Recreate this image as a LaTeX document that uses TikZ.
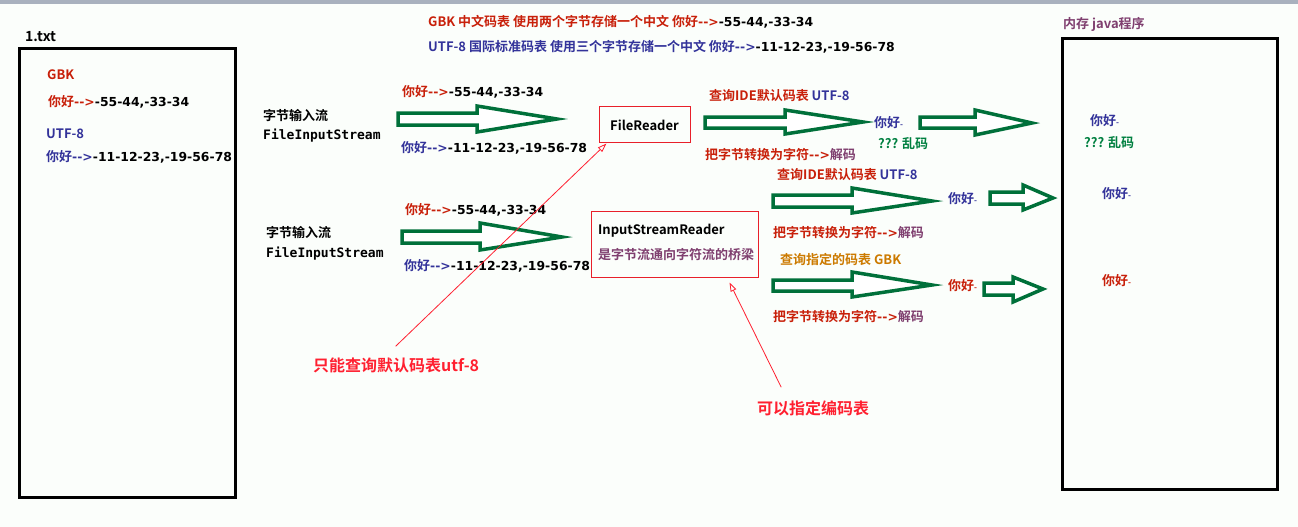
\documentclass[tikz,border=0pt]{standalone}
\usepackage{fontspec}
\setmainfont{Noto Sans CJK SC}[BoldFont={Noto Sans CJK SC Bold},Ligatures=TeXOff]
\setmonofont{DejaVu Sans Mono}[Ligatures=TeXOff]
\newfontfamily\dvfont{DejaVu Sans Bold}[Ligatures=TeXOff]
\usetikzlibrary{arrows.meta}
\definecolor{dred}{HTML}{C8200A}
\definecolor{dblue}{HTML}{33339A}
\definecolor{dpurple}{HTML}{7F3F6F}
\definecolor{tgreen}{HTML}{008040}
\definecolor{agreen}{HTML}{00703A}
\definecolor{dorange}{HTML}{CC7A00}
\definecolor{annred}{HTML}{FF2030}
\definecolor{boxred}{HTML}{E8202A}
\definecolor{topbar}{HTML}{A9B1BE}
\definecolor{bg}{HTML}{FBFEFB}
\newcommand\hollowarr[8]{%
  \draw[bigarr] (#1,#5) -- (#2,#5) -- (#2,#7) -- (#3,#4) -- (#2,#8) -- (#2,#6) -- (#1,#6) -- cycle;}
\newcommand\nihao{你好{\fontsize{8}{8}\selectfont -}}
\newcommand\numtxt[1]{{\dvfont\mdseries\fontsize{12.4}{15}\selectfont #1}}
\begin{document}
\begin{tikzpicture}[x=1pt,y=-1pt,
  txt/.style={inner sep=0pt, anchor=west, font=\bfseries\fontsize{13}{15}\selectfont},
  mono/.style={inner sep=0pt, anchor=west, font=\ttfamily\bfseries\fontsize{13}{15}\selectfont},
  ann/.style={inner sep=0pt, anchor=west, text=annred, font=\bfseries\fontsize{16}{18}\selectfont},
  bigarr/.style={draw=agreen, line width=3.5pt, fill=white, line join=miter},
  memory/.style={draw=black, line width=3pt, inner sep=0pt},
  procbox/.style={draw=boxred, line width=1pt, inner sep=0pt},
  redarr/.style={draw=annred, line width=0.8pt, -{Triangle[open,length=9pt,width=6pt]}}]
\useasboundingbox (0,0) rectangle (1298,527);
\fill[bg] (0,0) rectangle (1298,527);
\fill[topbar] (0,0) rectangle (1298,4);

% left file box
\node[txt, font=\bfseries\fontsize{14}{16}\selectfont] (ttxt) at (25,37) {1.txt};
\node[memory, minimum width=216pt, minimum height=448pt] (file) at (127,273) {};
\node[txt, text=dred] (lgbk) at (47,75) {GBK};
\node[txt] (lgbkv) at (48,102) {\textcolor{dred}{你好\numtxt{-->}}\numtxt{-55-44,-33-34}};
\node[txt, text=dblue] (lutf) at (46,134) {UTF-8};
\node[txt] (lutfv) at (46,157) {\textcolor{dblue}{你好\numtxt{-->}}\numtxt{-11-12-23,-19-56-78}};

% top explanation
\node[txt] (topgbk) at (428,22) {\textcolor{dred}{GBK 中文码表 使用两个字节存储一个中文 你好\numtxt{-->}}\numtxt{-55-44,-33-34}};
\node[txt] (toputf) at (428,47) {\textcolor{dblue}{UTF-8 国际标准码表 使用三个字节存储一个中文 你好\numtxt{-->}}\numtxt{-11-12-23,-19-56-78}};

% row 1
\node[txt] (bis1) at (263,116) {字节输入流};
\node[mono] (fis1) at (263,136) {FileInputStream};
\node[txt] (g1) at (402,92) {\textcolor{dred}{你好\numtxt{-->}}\numtxt{-55-44,-33-34}};
\node[txt] (u1) at (401,148) {\textcolor{dblue}{你好\numtxt{-->}}\numtxt{-11-12-23,-19-56-78}};
\hollowarr{398}{477}{557}{119}{113}{125}{106}{132}
\node[procbox, minimum width=91pt, minimum height=36pt] (fr) at (644.5,124) {};
\node[txt, anchor=center] (frt) at (644.5,125) {FileReader};
\node[txt] (q1) at (709,96) {\textcolor{dred}{查询IDE默认码表} \textcolor{dblue}{UTF-8}};
\hollowarr{705}{785}{863}{122}{117}{128}{110}{134}
\node[txt] (d1) at (705,155) {\textcolor{dred}{把字节转换为字符\numtxt{-->}}\textcolor{dpurple}{解码}};
\node[txt, text=dblue] (n1) at (874,123) {\nihao};
\node[txt, text=tgreen] (m1) at (878,144) {??? 乱码};
\hollowarr{920}{975}{1032}{123}{117}{128}{110}{135}

% row 2
\node[txt] (bis2) at (266,232) {字节输入流};
\node[mono] (fis2) at (266,254) {FileInputStream};
\node[txt] (g2) at (405,210) {\textcolor{dred}{你好\numtxt{-->}}\numtxt{-55-44,-33-34}};
\node[txt] (u2) at (404,266) {\textcolor{dblue}{你好\numtxt{-->}}\numtxt{-11-12-23,-19-56-78}};
\hollowarr{402}{480}{562}{237}{231}{243}{223}{250}
\node[procbox, minimum width=167pt, minimum height=66pt] (isr) at (674.5,244) {};
\node[txt] (isrt) at (598,231) {InputStreamReader};
\node[txt, text=dpurple] (isrd) at (598,255) {是字节流通向字符流的桥梁};

\node[txt] (q2) at (777,175) {\textcolor{dred}{查询IDE默认码表} \textcolor{dblue}{UTF-8}};
\hollowarr{773}{852}{932}{201}{195}{207}{188}{213}
\node[txt, text=dblue] (n2) at (948,199) {\nihao};
\hollowarr{990}{1023}{1053}{198}{192}{204}{185}{210}
\node[txt] (d2) at (773,233) {\textcolor{dred}{把字节转换为字符\numtxt{-->}}\textcolor{dpurple}{解码}};

\node[txt, text=dorange] (q3) at (780,259) {查询指定的码表 GBK};
\hollowarr{773}{852}{932}{285}{280}{291}{272}{297}
\node[txt, text=dred] (n3) at (948,286) {\nihao};
\hollowarr{984}{1013}{1043}{289}{283}{295}{277}{302}
\node[txt] (d3) at (773,317) {\textcolor{dred}{把字节转换为字符\numtxt{-->}}\textcolor{dpurple}{解码}};

% memory box
\node[txt, text=dpurple] (memt) at (1063,24) {内存 java程序};
\node[memory, minimum width=215pt, minimum height=450pt] (mem) at (1169.5,264) {};
\node[txt, text=dblue] (r1) at (1090,121) {\nihao};
\node[txt, text=tgreen] (r2) at (1084,143) {??? 乱码};
\node[txt, text=dblue] (r3) at (1102,194) {\nihao};
\node[txt, text=dred] (r4) at (1102,281) {\nihao};

% annotations
\node[ann] (a1) at (313,365) {只能查询默认码表utf-8};
\node[ann] (a2) at (757,408) {可以指定编码表};
\draw[redarr] ([xshift=-0.5pt,yshift=11pt]a1.north) -- ([xshift=8pt,yshift=-1pt]fr.south west);
\draw[redarr] ([xshift=-32pt,yshift=13pt]a2.north) -- ([xshift=55pt,yshift=-5pt]isr.south);
\end{tikzpicture}
\end{document}
